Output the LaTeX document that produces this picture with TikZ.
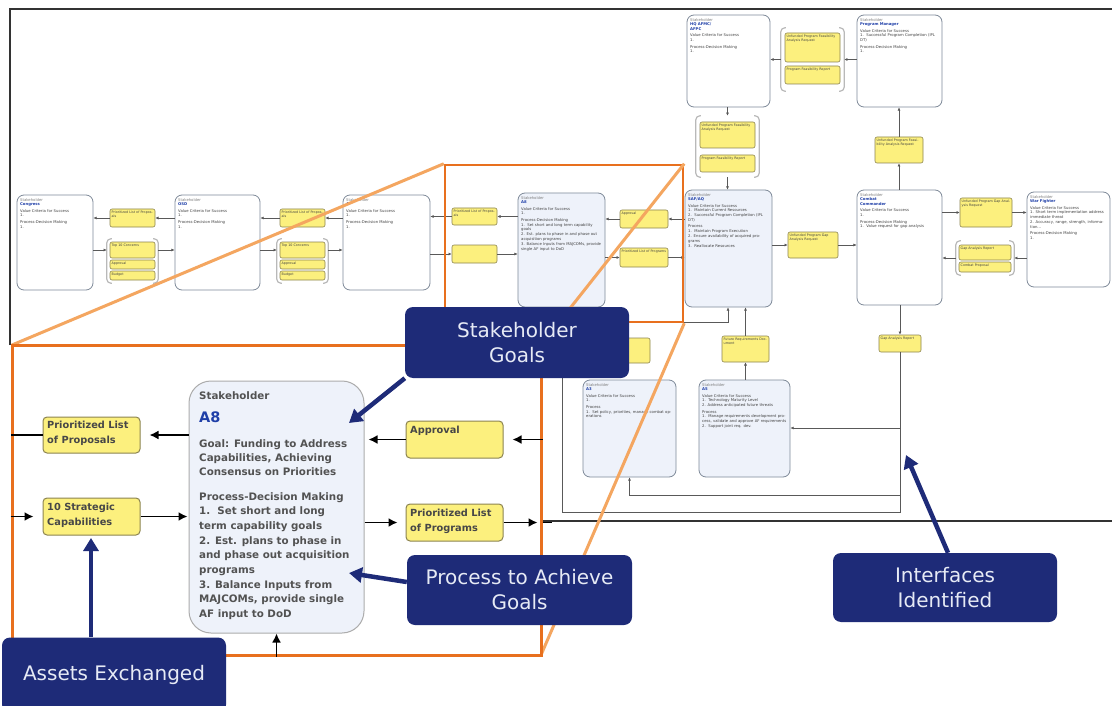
\documentclass[tikz,border=0pt]{standalone}
\usepackage{fontspec}
\setmainfont{DejaVu Sans}
\usetikzlibrary{arrows.meta}
\definecolor{navy}{HTML}{1E2B78}
\definecolor{orgdark}{HTML}{E8701E}
\definecolor{orglight}{HTML}{F4A660}
\definecolor{ylw}{HTML}{FCF07E}
\definecolor{ylwline}{HTML}{8C8450}
\definecolor{stkline}{HTML}{7F8A99}
\definecolor{ltblue}{HTML}{EEF2FA}
\definecolor{nameblue}{HTML}{1F3FA8}
\definecolor{labeltext}{HTML}{E6EAF5}
\newcommand\boxat[6]{\node[#1, minimum width={#5-#3}, minimum height={#6-#4}] (#2) at ({(#3+#5)/2},{(#4+#6)/2}) {};}
\newcommand\stk[7]{\boxat{stkbox,fill=#2}{#1}{#3}{#4}{#5}{#6}\pgfmathsetmacro\sw{#5-#3-6}\node[tiny, anchor=north west, text width=\sw pt] (#1t) at ({#3+3},{#4+3}) {#7};}
\newcommand\yel[6]{\boxat{yb}{#1}{#2}{#3}{#4}{#5}\pgfmathsetmacro\yw{#4-#2-3}\node[ytiny, anchor=north west, text width=\yw pt] (#1t) at ({#2+1.5},{#3+1.5}) {#6};}
\newcommand\shd[1]{\textcolor{black!50}{Stakeholder}\\\textcolor{nameblue}{\bfseries #1}\\[1.5pt]}
\begin{document}
\begin{tikzpicture}[x=1pt,y=-1pt,
  stkbox/.style={draw=stkline,line width=0.8pt,rounded corners=7pt,inner sep=0pt},
  yb/.style={draw=ylwline,fill=ylw,line width=0.6pt,rounded corners=2pt,inner sep=0pt},
  grpnode/.style={inner sep=0pt},
  grpln/.style={draw=gray!55,line width=1.2pt,rounded corners=4pt},
  tiny/.style={inner sep=0pt,align=left,font=\fontsize{3.8}{4.8}\selectfont,text=black!75},
  ytiny/.style={inner sep=0pt,align=left,font=\fontsize{3.3}{4}\selectfont,text=black!75},
  conn/.style={draw=black!65,line width=0.6pt,-{Latex[length=3.2pt,width=3pt]}},
  plain/.style={draw=black!65,line width=0.6pt},
  framel/.style={draw=black!80,line width=1.2pt},
  insetbox/.style={draw=orgdark,line width=3pt,fill=white,inner sep=0pt},
  zoombox/.style={draw=orgdark,line width=2.5pt,inner sep=0pt},
  zline/.style={draw=orglight,line width=3pt},
  bigstk/.style={draw=gray!65,line width=1pt,fill=ltblue,rounded corners=22pt,inner sep=0pt},
  ybig/.style={draw=ylwline,fill=ylw,line width=1pt,rounded corners=4pt,inner sep=0pt},
  itext/.style={inner sep=0pt,font=\fontsize{10.3}{14.7}\selectfont\bfseries,text=black!68},
  iytext/.style={inner sep=0pt,align=left,font=\fontsize{9.8}{14.5}\selectfont\bfseries,text=black!72},
  iarr/.style={draw=black,line width=1.6pt,-{Latex[length=9pt,width=9pt]}},
  iline/.style={draw=black,line width=1.6pt},
  callout/.style={fill=navy,rounded corners=8pt,text=labeltext,align=center,inner sep=0pt,font=\fontsize{20}{25}\selectfont},
  carr/.style={draw=navy,line width=4.5pt,-{Triangle[length=13pt,width=15pt]}}
]
\fill[white] (0,0) rectangle (1112,706);
\useasboundingbox (0,0) rectangle (1112,706);

% ---------- top diagram frame ----------
\draw[framel] (10,345) -- (10,9) -- (1112,9);
\draw[framel] (541,521) -- (1112,521);

% ---------- stakeholder boxes ----------
\stk{Congress}{white}{17}{195}{93}{290}{\shd{Congress}Value Criteria for Success\\1.\\[1.5pt]Process-Decision Making\\1.}
\stk{OSD}{white}{175}{195}{260}{290}{\shd{OSD}Value Criteria for Success\\1.\\[1.5pt]Process-Decision Making\\1.}
\stk{AF}{white}{343}{195}{430}{290}{\shd{AF}Value Criteria for Success\\1.\\[1.5pt]Process-Decision Making\\1.}
\stk{A8s}{ltblue}{518}{193}{605}{307}{\shd{A8}Value Criteria for Success\\1.\\[1.5pt]Process-Decision Making\\1.\ \ Set short and long term capability goals\\2. Est. plans to phase in and phase out acquisition programs\\3. Balance Inputs from MAJCOMs, provide single AF input to DoD}
\stk{HQ}{white}{687}{15}{770}{107}{\textcolor{black!50}{Stakeholder}\\\textcolor{nameblue}{\bfseries HQ AFMC/}\\\textcolor{nameblue}{\bfseries AFPC}\\[1.5pt]Value Criteria for Success\\1.\\[1.5pt]Process-Decision Making\\1.}
\stk{PM}{white}{857}{15}{942}{107}{\shd{Program Manager}Value Criteria for Success\\1.\ \ Successful Program Completion (IPL DT)\\[1.5pt]Process-Decision Making\\1.}
\stk{SAFAQ}{ltblue}{685}{190}{772}{307}{\shd{SAF/AQ}Value Criteria for Success\\1.\ \ Maintain Current Resources\\2.\ \ Successful Program Completion (IPL DT)\\[1.5pt]Process\\1.\ \ Maintain Program Execution\\2. Ensure availability of acquired programs\\3.\ \ Reallocate Resources}
\stk{CC}{white}{857}{190}{942}{305}{\textcolor{black!50}{Stakeholder}\\\textcolor{nameblue}{\bfseries Combat}\\\textcolor{nameblue}{\bfseries Commander}\\[1.5pt]Value Criteria for Success\\1.\\[1.5pt]Process-Decision Making\\1.\ \ Value request for gap analysis}
\stk{WF}{white}{1027}{192}{1110}{287}{\shd{War Fighter}Value Criteria for Success\\1. Short term implementation address immediate threat\\2. Accuracy, range, strength, information\dots\\[1.5pt]Process-Decision Making\\1.}
\stk{A3}{ltblue}{583}{380}{676}{477}{\shd{A3}Value Criteria for Success\\1.\\[1.5pt]Process\\1.\ \ Set policy, priorities, manage combat operations}
\stk{A5}{ltblue}{699}{380}{790}{477}{\shd{A5}Value Criteria for Success\\1.\ \ Technology Maturity Level\\2. Address anticipated future threats\\[1.5pt]Process\\1.\ \ Manage requirements development process, validate and approve AF requirements\\2.\ \ Support joint req. dev.}

% ---------- groups ----------
\boxat{grpnode}{g1}{107}{239}{158}{283}
\boxat{grpnode}{g2}{277}{239}{328}{283}
\boxat{grpnode}{g3}{781}{28}{844}{91}
\boxat{grpnode}{g4}{696}{116}{759}{177}
\boxat{grpnode}{g5}{956}{241}{1014}{275}
\foreach \g in {g1,g2,g3,g4,g5}{
  \draw[grpln] ([xshift=5pt]\g.north west) -- (\g.north west) -- (\g.south west) -- ([xshift=5pt]\g.south west);
  \draw[grpln] ([xshift=-5pt]\g.north east) -- (\g.north east) -- (\g.south east) -- ([xshift=-5pt]\g.south east);
}

% ---------- asset boxes ----------
\yel{y1}{110}{209}{155}{227}{Prioritized List of Proposals}
\yel{y2}{110}{242}{155}{258}{Top 10 Concerns}
\yel{y3}{110}{260}{155}{269}{Approval}
\yel{y4}{110}{271}{155}{280}{Budget}
\yel{y5}{280}{209}{325}{227}{Prioritized List of Proposals}
\yel{y6}{280}{242}{325}{258}{Top 10 Concerns}
\yel{y7}{280}{260}{325}{269}{Approval}
\yel{y8}{280}{271}{325}{280}{Budget}
\yel{y9}{452}{208}{497}{225}{Prioritized List of Proposals}
\yel{y10}{452}{245}{497}{263}{}
\yel{y11}{620}{210}{668}{228}{Approval}
\yel{y12}{620}{248}{668}{267}{Prioritized List of Programs}
\yel{y13}{785}{33}{840}{62}{Unfunded Program Feasibility Analysis Request}
\yel{y14}{785}{66}{840}{84}{Program Feasibility Report}
\yel{y15}{700}{122}{755}{148}{Unfunded Program Feasibility Analysis Request}
\yel{y16}{700}{155}{755}{172}{Program Feasibility Report}
\yel{y17}{875}{137}{923}{163}{Unfunded Program Feasibility Analysis Request}
\yel{y18}{788}{232}{838}{258}{Unfunded Program Gap Analysis Request}
\yel{y19}{960}{198}{1012}{227}{Unfunded Program Gap Analysis Request}
\yel{y20}{959}{245}{1011}{260}{Gap Analysis Report}
\yel{y21}{959}{262}{1011}{272}{Combat Proposal}
\yel{y22}{879}{335}{921}{352}{Gap Analysis Report}
\yel{y23}{722}{336}{769}{362}{Future Requirements Document}
\yel{y24}{600}{338}{650}{363}{}

% ---------- connectors (top) ----------
\draw[conn] (OSD.west |- y1.east) -- (y1.east);
\draw[conn] (y1.west) -- (Congress.east |- y1.west);
\draw[conn] (Congress.east |- y2.west) -- (g1.west |- y2.west);
\draw[conn] (g1.east |- y2.east) -- (OSD.west |- y2.east);
\draw[conn] (AF.west |- y5.east) -- (y5.east);
\draw[conn] (y5.west) -- (OSD.east |- y5.west);
\draw[conn] (OSD.east |- y6.west) -- (g2.west |- y6.west);
\draw[conn] (g2.east |- y6.east) -- (AF.west |- y6.east);
\draw[conn] (A8s.west |- y9.east) -- (y9.east);
\draw[conn] (y9.west) -- (AF.east |- y9.west);
\draw[conn] (AF.east |- y10.west) -- (y10.west);
\draw[conn] (y10.east) -- (A8s.west |- y10.east);
\draw[conn] (SAFAQ.west |- y11.east) -- (y11.east);
\draw[conn] (y11.west) -- (A8s.east |- y11.west);
\draw[conn] (A8s.east |- y12.west) -- (y12.west);
\draw[conn] (y12.east) -- (SAFAQ.west |- y12.east);
\draw[conn] (PM.west |- g3.east) -- (g3.east);
\draw[conn] (g3.west) -- (HQ.east |- g3.west);
\draw[conn] (HQ.south -| g4.north) -- (g4.north);
\draw[conn] (g4.south) -- (SAFAQ.north -| g4.south);
\draw[conn] (CC.north -| y17.south) -- (y17.south);
\draw[conn] (y17.north) -- (PM.south -| y17.north);
\draw[conn] (SAFAQ.east |- y18.west) -- (y18.west);
\draw[conn] (y18.east) -- (CC.west |- y18.east);
\draw[conn] (CC.east |- y19.west) -- (y19.west);
\draw[conn] (y19.east) -- (WF.west |- y19.east);
\draw[conn] (WF.west |- g5.east) -- (g5.east);
\draw[conn] (g5.west) -- (CC.east |- g5.west);
\draw[conn] (CC.south -| y22.north) -- (y22.north);
\coordinate (lpB) at (900,512);
\coordinate (lpL) at (562,512);
\coordinate (lpT) at (562,350);
\draw[conn] (y22.south) -- (lpB) -- (lpL) -- (lpT) -- (y24.west |- lpT);
\coordinate (jA5) at (900,428);
\draw[conn] (jA5) -- (A5.east |- jA5);
\coordinate (jA3) at (900,495);
\draw[conn] (jA3) -- (jA3 -| A3.south) -- (A3.south);
\draw[conn] (A5.north -| y23.south) -- (y23.south);
\draw[conn] (y23.north) -- (SAFAQ.south -| y23.north);
\coordinate (j24) at (625,322);
\coordinate (j24r) at (728,322);
\coordinate (j24l) at (561,322);
\draw[plain] (y24.north) -- (j24);
\draw[conn] (j24) -- (j24r) -- (j24r |- SAFAQ.south);
\draw[conn] (j24) -- (j24l) -- (j24l |- A8s.south);

% ---------- zoom ----------
\boxat{zoombox}{zs}{445}{165}{683}{322}
\draw[zline] (zs.north west) -- (12,345);
\draw[zline] (zs.north east) -- (541,345);
\draw[zline] (zs.south east) -- (541,655);
\boxat{insetbox}{zi}{12}{345}{541}{655}

% ---------- inset content ----------
\boxat{bigstk}{A8b}{189}{381}{364}{633}
\node[itext, anchor=base west] (A8lab) at (199,399) {Stakeholder};
\node[inner sep=0pt, anchor=base west, font=\fontsize{14.5}{16}\selectfont\bfseries, text=nameblue] (A8name) at (199,422) {A8};
\foreach \t [count=\i from 0] in {{Goal: Funding to Address},{Capabilities, Achieving},{Consensus on Priorities}}
  \node[itext, anchor=base west] (gl\i) at (199,{447+14.2*\i}) {\t};
\foreach \t [count=\i from 0] in {{Process-Decision Making},{1.\ \ Set short and long},{term capability goals},{2. Est. plans to phase in},{and phase out acquisition},{programs},{3. Balance Inputs from},{MAJCOMs, provide single},{AF input to DoD}}
  \node[itext, anchor=base west] (pl\i) at (199,{500+14.7*\i}) {\t};

\boxat{ybig}{iP1}{43}{417}{140}{453}
\node[iytext, anchor=north west] (iP1t) at (47,421) {Prioritized List\\of Proposals};
\boxat{ybig}{iC}{43}{498}{140}{535}
\node[iytext, anchor=north west] (iCt) at (47,503) {10 Strategic\\Capabilities};
\boxat{ybig}{iA}{406}{421}{503}{458}
\node[iytext, anchor=north west] (iAt) at (410,426) {Approval};
\boxat{ybig}{iPr}{406}{504}{503}{541}
\node[iytext, anchor=north west] (iPrt) at (410,509) {Prioritized List\\of Programs};

\draw[iarr, shorten >=9pt] (A8b.west |- iP1.east) -- (iP1.east);
\draw[iline] (iP1.west) -- (zi.west |- iP1.west);
\draw[iarr, shorten >=9pt] (zi.west |- iC.west) -- (iC.west);
\draw[iarr, shorten >=1pt] (iC.east) -- (A8b.west |- iC.east);
\draw[iarr, shorten >=9pt] (zi.east |- iA.east) -- (iA.east);
\draw[iarr, shorten >=4pt] (iA.west) -- (A8b.east |- iA.west);
\draw[iarr, shorten >=8pt] (A8b.east |- iPr.west) -- (iPr.west);
\draw[iarr, shorten >=5pt] (iPr.east) -- (zi.east |- iPr.east);
\coordinate (iPrx) at (552,522.5);
\draw[iline] (zi.east |- iPr.east) -- (iPrx);
\draw[iarr] (A8b.south |- zi.south) -- (A8b.south);

% ---------- callouts ----------
\node[callout, minimum width=224, minimum height=71] (lgoals) at (517,342.5) {Stakeholder\\Goals};
\node[callout, minimum width=225, minimum height=70] (lproc) at (519.5,590) {Process to Achieve\\Goals};
\node[callout, minimum width=224, minimum height=69] (linter) at (945,587.5) {Interfaces\\Identified};
\node[callout, minimum width=224, minimum height=75] (lassets) at (114,675) {Assets Exchanged};
\coordinate (tgoal) at (349,423);
\coordinate (tproc) at (349,573);
\coordinate (tasset) at (91,538);
\coordinate (tint) at (906,455);
\draw[carr] (lgoals.south west) -- (tgoal);
\draw[carr] ([yshift=8pt]lproc.west) -- (tproc);
\draw[carr] (lassets.north -| tasset) -- (tasset);
\draw[carr] ([xshift=3pt]linter.north) -- (tint);
\end{tikzpicture}
\end{document}
